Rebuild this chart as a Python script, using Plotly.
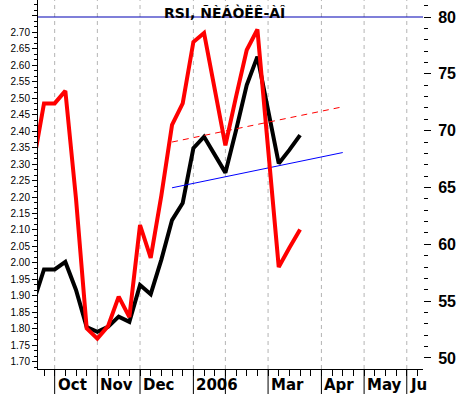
import plotly.graph_objects as go

# weekly index (0 = first full week shown)
weeks = list(range(-1, 25))
price = [1.88, 1.98, 1.98, 2.003, 1.918, 1.805, 1.791, 1.806, 1.837, 1.821, 1.933, 1.905,
         2.01, 2.13, 2.182, 2.348, 2.383, 2.328, 2.274, 2.403, 2.54, 2.626, 2.468, 2.302,
         2.343, 2.388]
rsi = [67.1, 72.4, 72.4, 73.5, 64.0, 52.6, 51.7, 52.8, 55.4, 53.6, 61.7, 58.8, 64.3,
       70.5, 72.4, 77.8, 78.6, 73.7, 68.7, 73.0, 77.1, 78.9, 68.5, 58.0, 59.7, 61.3]

rsi_trend_x = [12, 28]
rsi_trend_y = [69.0, 72.1]
price_trend_x = [12, 28]
price_trend_y = [2.228, 2.335]

rsi_level = 80
month_pos = [1, 5, 9, 14, 17, 21, 26, 30, 34]
month_labels = ["Oct", "Nov", "Dec", "2006", "", "Mar", "Apr", "May", "Ju"]
left_ticks = [round(1.70 + 0.05 * k, 2) for k in range(22)]
left_text = [f"{v:.2f}" if v <= 2.70 else "" for v in left_ticks]
right_ticks = [50, 55, 60, 65, 70, 75, 80]

title = "RSI, ÑÈÁÒËÊ-ÀÎ"

X_RANGE = [-0.562, 35.52]
fig = go.Figure()

fig.add_trace(go.Scatter(x=weeks, y=rsi, mode="lines", yaxis="y2",
                         line=dict(color="#ff0000", width=4), hoverinfo="skip"))
fig.add_trace(go.Scatter(x=weeks, y=price, mode="lines", yaxis="y",
                         line=dict(color="#000000", width=4), hoverinfo="skip"))
fig.add_trace(go.Scatter(x=rsi_trend_x, y=rsi_trend_y, mode="lines", yaxis="y2",
                         line=dict(color="#ff0000", width=1, dash="6px,5px"), hoverinfo="skip"))
fig.add_trace(go.Scatter(x=price_trend_x, y=price_trend_y, mode="lines", yaxis="y",
                         line=dict(color="#0000ff", width=1), hoverinfo="skip"))

shapes = []
for p in month_pos:
    shapes.append(dict(type="line", xref="x", yref="paper", x0=p, x1=p, y0=0, y1=1,
                       line=dict(color="#b4b4b4", width=1, dash="4px,4px"), layer="below"))
    shapes.append(dict(type="line", xref="x", yref="paper", x0=p, x1=p, y0=0, y1=-25 / 369,
                       line=dict(color="#000000", width=1)))
shapes.append(dict(type="line", xref="paper", yref="y2", x0=0, x1=1, y0=rsi_level, y1=rsi_level,
                   line=dict(color="#0000b4", width=1.2), layer="below"))

annotations = [dict(text="<b>" + title + "</b>", xref="paper", yref="paper", x=0.486, y=0.966,
                    xanchor="center", yanchor="middle", showarrow=False,
                    font=dict(family="DejaVu Sans", size=14, color="#000000"))]
for p, lab in zip(month_pos, month_labels):
    if lab:
        annotations.append(dict(text="<b>" + lab + "</b>", xref="x", yref="paper", x=p,
                                y=-0.044, xanchor="left", yanchor="middle", xshift=1,
                                showarrow=False,
                                font=dict(family="DejaVu Sans", size=15, color="#000000")))

fig.update_layout(
    width=462, height=394,
    margin=dict(l=38, r=39, t=0, b=25),
    paper_bgcolor="white", plot_bgcolor="white",
    showlegend=False,
    shapes=shapes, annotations=annotations,
    xaxis=dict(range=X_RANGE, showgrid=False, zeroline=False, showline=True,
               linecolor="black", linewidth=1, tickvals=list(range(0, 36)),
               ticks="outside", ticklen=6, tickcolor="black", showticklabels=False),
    yaxis=dict(range=[1.678, 2.798], showgrid=False, zeroline=False, showline=True,
               linecolor="black", linewidth=1, tickvals=left_ticks, ticktext=left_text,
               ticks="outside", ticklen=5, tickcolor="black",
               tickfont=dict(family="Liberation Sans, Arial", size=10, color="black"),
               minor=dict(dtick=0.05 / 3, tick0=1.70, ticks="outside", ticklen=3,
                          tickcolor="black", showgrid=False)),
    yaxis2=dict(range=[49.03, 81.496], overlaying="y", side="right", anchor="x",
                showgrid=False, zeroline=False, showline=False, tickvals=right_ticks,
                ticks="outside", ticklen=7, tickcolor="black", ticklabelstandoff=4,
                tickfont=dict(family="Liberation Sans, Arial", size=16, color="black",
                              weight="bold"),
                minor=dict(dtick=1, tick0=50, ticks="outside", ticklen=4,
                           tickcolor="black", showgrid=False)),
)

fig.write_html("out.html", config={"displayModeBar": False},
               post_script="document.body.style.margin='0px';")
